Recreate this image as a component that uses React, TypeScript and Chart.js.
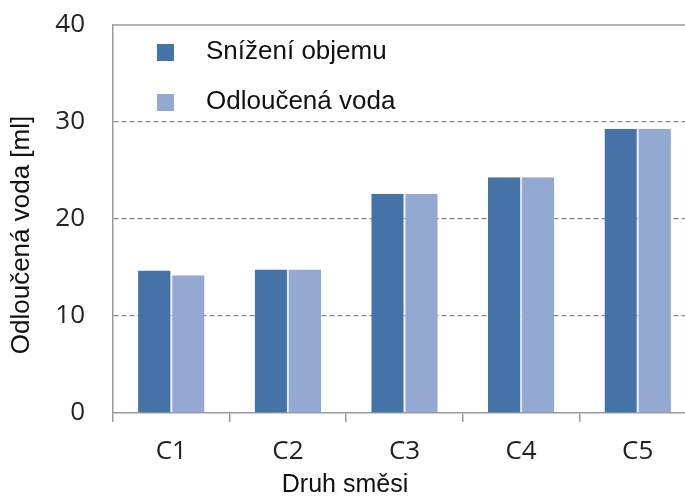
import React, { useEffect, useRef } from "react";
import { Chart, registerables } from "chart.js";

Chart.register(...registerables);

const categories = ["C1", "C2", "C3", "C4", "C5"];
const snizeniObjemu = [14.7, 14.8, 22.6, 24.3, 29.3];
const odloucenaVoda = [14.2, 14.8, 22.6, 24.3, 29.3];
const seriesLabels = ["Snížení objemu", "Odloučená voda"];
const yTicks = [0, 10, 20, 30, 40];
const yTitle = "Odloučená voda [ml]";
const xTitle = "Druh směsi";

const DARK = "#4572a7";
const LIGHT = "#93a9d1";

const overlayPlugin = {
  id: "overlay",
  afterDraw(chart: any) {
    const { ctx, chartArea } = chart;
    ctx.save();
    // top border line
    ctx.strokeStyle = "#9a9a9a";
    ctx.lineWidth = 1.5;
    ctx.beginPath();
    ctx.moveTo(chartArea.left, chartArea.top);
    ctx.lineTo(chartArea.right, chartArea.top);
    ctx.stroke();

    // legend
    const colors = [DARK, LIGHT];
    const ys = [52, 102];
    ctx.font = "26px 'Liberation Sans', Arial, sans-serif";
    ctx.textBaseline = "middle";
    ctx.textAlign = "left";
    for (let i = 0; i < seriesLabels.length; i++) {
      ctx.fillStyle = colors[i];
      ctx.fillRect(157, ys[i] - 8, 17, 17);
      ctx.fillStyle = "#111";
      ctx.fillText(seriesLabels[i], 206, ys[i]);
    }

    // axis titles
    ctx.fillStyle = "#111";
    ctx.font = "25px 'Liberation Sans', Arial, sans-serif";
    ctx.textAlign = "center";
    ctx.textBaseline = "middle";
    ctx.fillText(xTitle, 345, 485);
    ctx.save();
    ctx.translate(22, 235);
    ctx.rotate(-Math.PI / 2);
    ctx.font = "26px 'Liberation Sans', Arial, sans-serif";
    ctx.fillText(yTitle, 0, 0);
    ctx.restore();
    ctx.restore();
  },
};

export default function App() {
  const ref = useRef<HTMLCanvasElement | null>(null);
  useEffect(() => {
    if (!ref.current) return;
    const chart = new Chart(ref.current, {
      type: "bar",
      data: {
        labels: categories,
        datasets: [
          {
            label: seriesLabels[0],
            data: snizeniObjemu,
            backgroundColor: DARK,
            borderColor: "#dfe6f1",
            borderWidth: { right: 1 },
          },
          {
            label: seriesLabels[1],
            data: odloucenaVoda,
            backgroundColor: LIGHT,
            borderColor: "#dfe6f1",
            borderWidth: { left: 1 },
          },
        ],
      },
      options: {
        responsive: false,
        animation: false,
        layout: { padding: { top: 25, right: 4, left: 0, bottom: 0 } },
        plugins: {
          legend: { display: false },
          tooltip: { enabled: false },
        },
        datasets: {
          bar: { barPercentage: 1, categoryPercentage: 0.57 },
        },
        scales: {
          x: {
            grid: {
              offset: true,
              drawOnChartArea: false,
              drawTicks: true,
              tickLength: 9,
              color: "#9a9a9a",
              lineWidth: 1.5,
            },
            border: { display: true, color: "#9a9a9a", width: 1.5 },
            ticks: {
              color: "#222",
              font: { family: "'Open Sans', sans-serif", size: 26 },
              padding: 14,
            },
            afterFit: (s: any) => {
              s.height = 84;
            },
          },
          y: {
            min: 0,
            max: 40,
            afterBuildTicks: (s: any) => {
              s.ticks = yTicks.map((v) => ({ value: v }));
            },
            grid: {
              drawTicks: true,
              tickLength: 28,
              tickColor: "rgba(0,0,0,0)",
              color: (c: any) =>
                c.tick && (c.tick.value === 0 || c.tick.value === 40)
                  ? "rgba(0,0,0,0)"
                  : "#8a8a8a",
              lineWidth: 1.2,
            },
            border: { display: true, color: "#9a9a9a", width: 1.5, dash: [5, 3] },
            ticks: {
              color: "#222",
              font: { family: "'Open Sans', sans-serif", size: 26 },
              padding: 0,
            },
            afterFit: (s: any) => {
              s.width = 113;
            },
          },
        },
      },
      plugins: [overlayPlugin],
    });
    return () => chart.destroy();
  }, []);
  return (
    <div
      style={{
        position: "fixed",
        left: 0,
        top: 0,
        width: 685,
        height: 497,
        overflow: "hidden",
        background: "#fff",
      }}
    >
      <canvas ref={ref} width={700} height={497} />
    </div>
  );
}
